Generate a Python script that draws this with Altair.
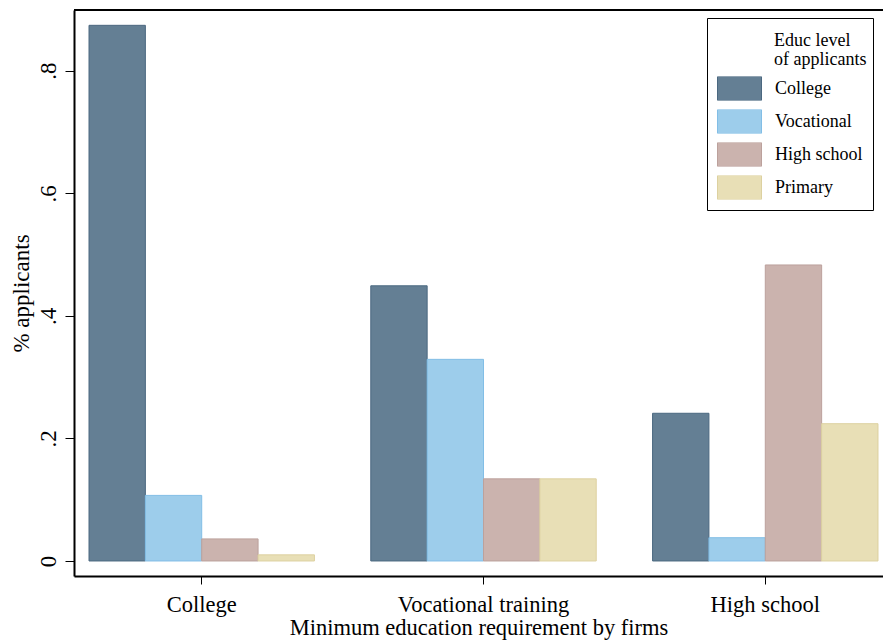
import altair as alt
import pandas as pd

# ---- data ----
requirements = ["College", "Vocational training", "High school"]
applicant_levels = ["College", "Vocational", "High school", "Primary"]
share_req_college = [0.874, 0.107, 0.036, 0.010]
share_req_vocational = [0.449, 0.329, 0.134, 0.134]
share_req_highschool = [0.241, 0.038, 0.483, 0.224]
y_tick_values = [0, 0.2, 0.4, 0.6, 0.8]
legend_title_lines = ["Educ level", "of applicants"]

fill_colors = ["#647f94", "#9dcdeb", "#cbb3ae", "#e8dfb6"]
stroke_colors = ["#4b6880", "#82bee6", "#bca19c", "#ddd1a0"]

rows = []
for req, vals in zip(requirements, [share_req_college, share_req_vocational, share_req_highschool]):
    for lvl, v in zip(applicant_levels, vals):
        rows.append({"req": req, "level": lvl, "share": v})
df = pd.DataFrame(rows)

FONT = "Liberation Serif"
W, H = 809, 566

# the legend keeps room for its two-line title (blank here); the title itself is drawn
# as a text layer so that it lines up with the labels, as in the reference
legend = alt.Legend(
    orient="none", legendX=633, legendY=8,
    title=["\u00a0", "\u00a0"], titleFont=FONT,
    titleFontSize=18, titleFontWeight="normal", titleLineHeight=18.5, titlePadding=12,
    labelFont=FONT, labelFontSize=18, labelColor="black", labelOffset=13, labelLimit=0,
    symbolType="M-1,-0.545H1V0.545H-1Z", symbolSize=1936, symbolStrokeWidth=1,
    clipHeight=24, rowPadding=9, padding=10,
    strokeColor="black",
)

bars = alt.Chart(df).mark_bar(strokeWidth=1, opacity=1).encode(
    x=alt.X(
        "req:N", sort=requirements, title="Minimum education requirement by firms",
        scale=alt.Scale(paddingInner=0.2, paddingOuter=0.0355, align=0.75),
        axis=alt.Axis(labelAngle=0, labelFont=FONT, labelFontSize=22.5, labelColor="black",
                      titleFont=FONT, titleFontSize=22.5, titleFontWeight="normal", titleColor="black",
                      tickSize=8, tickColor="black", tickWidth=1, labelPadding=9, titlePadding=1,
                      domainColor="black", domainWidth=2, grid=False),
    ),
    xOffset=alt.XOffset("level:N", sort=applicant_levels,
                        scale=alt.Scale(domain=applicant_levels, paddingInner=0, paddingOuter=0)),
    y=alt.Y(
        "share:Q", title="% applicants",
        scale=alt.Scale(domain=[-0.0245, 0.899], nice=False, zero=False),
        axis=alt.Axis(values=y_tick_values,
                      labelExpr="datum.value == 0 ? '0' : replace(format(datum.value, '.1f'), '0.', '.')",
                      labelAngle=270, labelAlign="center", labelBaseline="bottom",
                      labelFont=FONT, labelFontSize=23, labelColor="black", labelPadding=5,
                      titleFont=FONT, titleFontSize=23, titleFontWeight="normal", titleColor="black",
                      titlePadding=4, tickSize=9, tickColor="black", tickWidth=1,
                      domainColor="black", domainWidth=2, grid=False),
    ),
    color=alt.Color("level:N", sort=applicant_levels,
                    scale=alt.Scale(domain=applicant_levels, range=fill_colors), legend=legend),
    stroke=alt.Stroke("level:N", sort=applicant_levels,
                      scale=alt.Scale(domain=applicant_levels, range=stroke_colors), legend=legend),
)

one = pd.DataFrame({"k": [0]})
top_frame = alt.Chart(one).mark_rule(color="black", strokeWidth=2).encode(
    x=alt.value(0), x2=alt.value("width"), y=alt.value(0)
)
legend_title = alt.Chart(one).mark_text(
    text=legend_title_lines, font=FONT, fontSize=18, lineHeight=18.5,
    align="left", baseline="alphabetic", color="black"
).encode(x=alt.value(700), y=alt.value(36))

chart = alt.layer(bars, top_frame, legend_title).properties(
    width=W, height=H,
    autosize=alt.AutoSizeParams(type="none"),
    padding={"left": 74, "top": 10, "right": 0, "bottom": 64},
).configure_view(stroke=None).configure(background="white")

chart.save("out.html", embed_options={"renderer": "svg", "actions": False})
